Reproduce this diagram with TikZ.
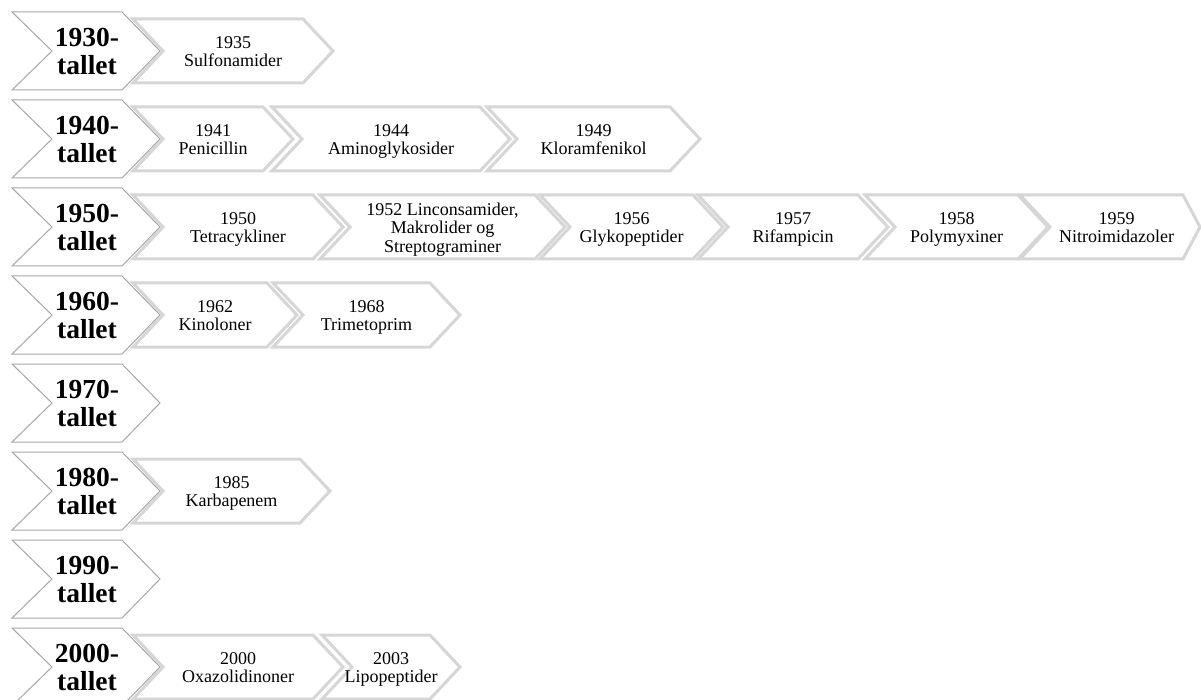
\documentclass[tikz,border=0pt]{standalone}
\usepackage{fontspec}
\setmainfont{Liberation Serif}
\definecolor{eraline}{HTML}{A6A6A6}
\definecolor{drugline}{HTML}{D6D6D6}
\tikzset{
  erashape/.style={draw=eraline, line width=1pt, fill=white, line join=miter},
  drugshape/.style={draw=drugline, line width=3pt, fill=white, line join=miter},
  eratext/.style={align=center, font=\fontsize{27.5}{28.5}\selectfont\bfseries, inner sep=0pt,
    execute at begin node=\strut, execute at end node=\strut},
  drugtext/.style={align=center, font=\fontsize{18}{18.5}\selectfont, inner sep=0pt,
    execute at begin node=\strut, execute at end node=\strut},
}
% decade chevron: #1 name, #2 row centre, #3 label
\newcommand\erachev[3]{%
  \draw[erashape] (12,{#2-39}) -- (122,{#2-39}) -- (160,#2) -- (122,{#2+39})
    -- (12,{#2+39}) -- (52,#2) -- cycle;
  \node[eratext] (#1) at (87,{#2+4.5}) {#3};}
% entry chevron: #1 name, #2 left x, #3 right x, #4 row centre, #5 tip depth, #6 label
\newcommand\drugchev[6]{%
  \draw[drugshape] (#2,{#4-32}) -- (#3,{#4-32}) -- ({#3+#5},#4) -- (#3,{#4+32})
    -- (#2,{#4+32}) -- ({#2+30},#4) -- cycle;
  \node[drugtext] (#1) at ({(#2+30+#3)/2},{#4+3.5}) {#6};}
\begin{document}
\begin{tikzpicture}[x=1pt,y=-1pt]
\useasboundingbox (0,0) rectangle (1201,700);

% 1930s
\erachev{d30}{51}{1930-\\tallet}
\drugchev{a35}{133}{303}{51}{30}{1935\\Sulfonamider}

% 1940s
\erachev{d40}{139}{1940-\\tallet}
\drugchev{a41}{133}{263}{139}{30}{1941\\Penicillin}
\drugchev{a44}{272}{480}{139}{30}{1944\\Aminoglykosider}
\drugchev{a49}{487}{670}{139}{30}{1949\\Kloramfenikol}

% 1950s
\erachev{d50}{227}{1950-\\tallet}
\drugchev{a50}{133}{313}{227}{30}{1950\\Tetracykliner}
\drugchev{a52}{320}{535}{227}{30}{1952 Linconsamider,\\Makrolider og\\Streptograminer}
\drugchev{a56}{540}{693}{227}{30}{1956\\Glykopeptider}
\drugchev{a57}{698}{858}{227}{30}{1957\\Rifampicin}
\drugchev{a58}{865}{1018}{227}{30}{1958\\Polymyxiner}
\drugchev{a59}{1020}{1183}{227}{17}{1959\\Nitroimidazoler}

% 1960s
\erachev{d60}{315}{1960-\\tallet}
\drugchev{a62}{133}{267}{315}{30}{1962\\Kinoloner}
\drugchev{a68}{273}{430}{315}{30}{1968\\Trimetoprim}

% 1970s
\erachev{d70}{403}{1970-\\tallet}

% 1980s
\erachev{d80}{491}{1980-\\tallet}
\drugchev{a85}{133}{300}{491}{30}{1985\\Karbapenem}

% 1990s
\erachev{d90}{579}{1990-\\tallet}

% 2000s
\erachev{d00}{667}{2000-\\tallet}
\drugchev{a00}{133}{313}{667}{30}{2000\\Oxazolidinoner}
\drugchev{a03}{322}{430}{667}{30}{2003\\Lipopeptider}
\end{tikzpicture}
\end{document}
